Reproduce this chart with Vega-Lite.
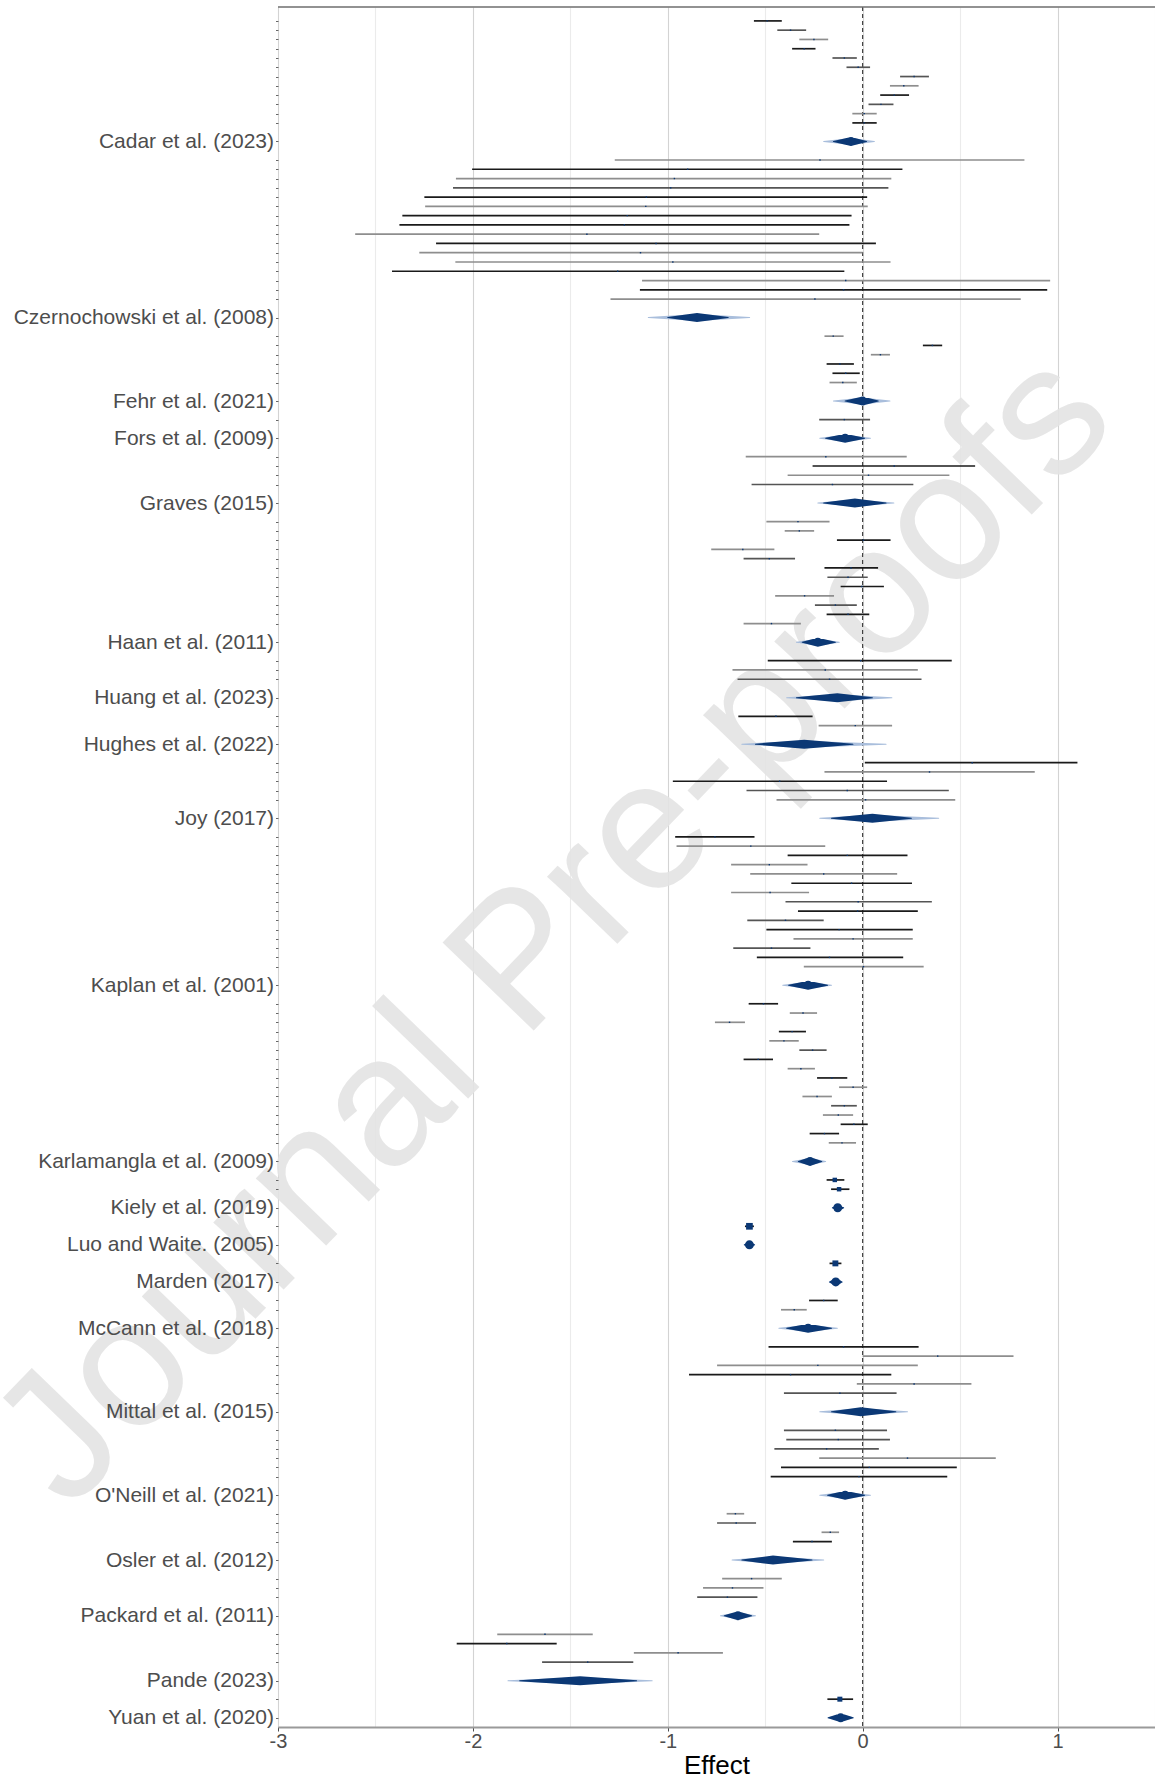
{
  "$schema": "https://vega.github.io/schema/vega-lite/v6.json",
  "width": 877,
  "height": 1720,
  "autosize": {"type": "none"},
  "padding": {"left": 278, "top": 7, "right": 0, "bottom": 53},
  "background": "white",
  "config": {
    "view": {"stroke": null},
    "font": "Liberation Sans",
    "axis": {"labelOverlap": false, "labelLimit": 400, "labelFlush": false}
  },
  "datasets": {
    "studies": [
      {"row":0,"lo":-0.558,"est":-0.49,"hi":-0.415,"t":"k","w":2},
      {"row":1,"lo":-0.438,"est":-0.37,"hi":-0.29,"t":"d","w":2},
      {"row":2,"lo":-0.325,"est":-0.25,"hi":-0.177,"t":"g","w":2},
      {"row":3,"lo":-0.362,"est":-0.30,"hi":-0.242,"t":"k","w":2},
      {"row":4,"lo":-0.155,"est":-0.094,"hi":-0.03,"t":"d","w":2},
      {"row":5,"lo":-0.083,"est":-0.023,"hi":0.038,"t":"d","w":2},
      {"row":6,"lo":0.192,"est":0.264,"hi":0.34,"t":"d","w":2},
      {"row":7,"lo":0.14,"est":0.211,"hi":0.287,"t":"g","w":2},
      {"row":8,"lo":0.09,"est":0.162,"hi":0.238,"t":"k","w":2},
      {"row":9,"lo":0.03,"est":0.094,"hi":0.158,"t":"d","w":2},
      {"row":10,"lo":-0.053,"est":0.008,"hi":0.072,"t":"g","w":2},
      {"row":11,"lo":-0.053,"est":0.008,"hi":0.072,"t":"k","w":2},
      {"row":15,"lo":-1.272,"est":-0.219,"hi":0.83,"t":"g","w":2},
      {"row":16,"lo":-2.004,"est":-0.898,"hi":0.204,"t":"k","w":2},
      {"row":17,"lo":-2.087,"est":-0.966,"hi":0.147,"t":"g","w":2},
      {"row":18,"lo":-2.102,"est":-0.985,"hi":0.132,"t":"d","w":2},
      {"row":19,"lo":-2.249,"est":-1.11,"hi":0.023,"t":"k","w":2},
      {"row":20,"lo":-2.245,"est":-1.113,"hi":0.026,"t":"g","w":2},
      {"row":21,"lo":-2.362,"est":-1.208,"hi":-0.057,"t":"k","w":2},
      {"row":22,"lo":-2.377,"est":-1.223,"hi":-0.068,"t":"k","w":2},
      {"row":23,"lo":-2.604,"est":-1.415,"hi":-0.223,"t":"g","w":2},
      {"row":24,"lo":-2.189,"est":-1.06,"hi":0.068,"t":"k","w":2},
      {"row":25,"lo":-2.275,"est":-1.14,"hi":0.0,"t":"g","w":2},
      {"row":26,"lo":-2.09,"est":-0.974,"hi":0.143,"t":"g","w":2},
      {"row":27,"lo":-2.415,"est":-1.257,"hi":-0.094,"t":"k","w":2},
      {"row":28,"lo":-1.132,"est":-0.087,"hi":0.962,"t":"g","w":2},
      {"row":29,"lo":-1.143,"est":-0.098,"hi":0.947,"t":"k","w":2},
      {"row":30,"lo":-1.294,"est":-0.245,"hi":0.811,"t":"g","w":2},
      {"row":34,"lo":-0.196,"est":-0.151,"hi":-0.098,"t":"g","w":2},
      {"row":35,"lo":0.309,"est":0.358,"hi":0.408,"t":"k","w":2},
      {"row":36,"lo":0.042,"est":0.091,"hi":0.14,"t":"g","w":2},
      {"row":37,"lo":-0.185,"est":-0.117,"hi":-0.045,"t":"k","w":2},
      {"row":38,"lo":-0.155,"est":-0.087,"hi":-0.015,"t":"k","w":2},
      {"row":39,"lo":-0.17,"est":-0.102,"hi":-0.03,"t":"g","w":2},
      {"row":43,"lo":-0.223,"est":-0.094,"hi":0.038,"t":"d","w":2},
      {"row":47,"lo":-0.6,"est":-0.189,"hi":0.226,"t":"g","w":2},
      {"row":48,"lo":-0.257,"est":0.162,"hi":0.577,"t":"k","w":2},
      {"row":49,"lo":-0.385,"est":0.03,"hi":0.445,"t":"g","w":2},
      {"row":50,"lo":-0.57,"est":-0.155,"hi":0.26,"t":"d","w":2},
      {"row":54,"lo":-0.494,"est":-0.332,"hi":-0.17,"t":"g","w":2},
      {"row":55,"lo":-0.4,"est":-0.325,"hi":-0.249,"t":"g","w":2},
      {"row":56,"lo":-0.132,"est":0.004,"hi":0.143,"t":"k","w":2},
      {"row":57,"lo":-0.777,"est":-0.615,"hi":-0.453,"t":"g","w":2},
      {"row":58,"lo":-0.611,"est":-0.479,"hi":-0.347,"t":"d","w":2},
      {"row":59,"lo":-0.196,"est":-0.06,"hi":0.079,"t":"k","w":2},
      {"row":60,"lo":-0.181,"est":-0.075,"hi":0.026,"t":"d","w":2},
      {"row":61,"lo":-0.113,"est":-0.004,"hi":0.109,"t":"k","w":2},
      {"row":62,"lo":-0.449,"est":-0.298,"hi":-0.147,"t":"g","w":2},
      {"row":63,"lo":-0.245,"est":-0.14,"hi":-0.03,"t":"d","w":2},
      {"row":64,"lo":-0.185,"est":-0.075,"hi":0.034,"t":"k","w":2},
      {"row":65,"lo":-0.611,"est":-0.468,"hi":-0.317,"t":"g","w":2},
      {"row":69,"lo":-0.487,"est":-0.01,"hi":0.457,"t":"k","w":2},
      {"row":70,"lo":-0.668,"est":-0.192,"hi":0.283,"t":"g","w":2},
      {"row":71,"lo":-0.642,"est":-0.17,"hi":0.302,"t":"d","w":2},
      {"row":75,"lo":-0.638,"est":-0.445,"hi":-0.257,"t":"k","w":2},
      {"row":76,"lo":-0.226,"est":-0.038,"hi":0.151,"t":"g","w":2},
      {"row":80,"lo":0.011,"est":0.562,"hi":1.102,"t":"k","w":2},
      {"row":81,"lo":-0.196,"est":0.343,"hi":0.883,"t":"g","w":2},
      {"row":82,"lo":-0.974,"est":-0.426,"hi":0.125,"t":"k","w":2},
      {"row":83,"lo":-0.596,"est":-0.079,"hi":0.442,"t":"d","w":2},
      {"row":84,"lo":-0.442,"est":0.015,"hi":0.475,"t":"g","w":2},
      {"row":88,"lo":-0.962,"est":-0.758,"hi":-0.555,"t":"k","w":2},
      {"row":89,"lo":-0.955,"est":-0.574,"hi":-0.192,"t":"g","w":2},
      {"row":90,"lo":-0.385,"est":-0.079,"hi":0.23,"t":"k","w":2},
      {"row":91,"lo":-0.675,"est":-0.479,"hi":-0.283,"t":"g","w":2},
      {"row":92,"lo":-0.577,"est":-0.2,"hi":0.177,"t":"g","w":2},
      {"row":93,"lo":-0.366,"est":-0.057,"hi":0.253,"t":"k","w":2},
      {"row":94,"lo":-0.675,"est":-0.475,"hi":-0.275,"t":"g","w":2},
      {"row":95,"lo":-0.396,"est":-0.023,"hi":0.355,"t":"d","w":2},
      {"row":96,"lo":-0.332,"est":-0.026,"hi":0.283,"t":"k","w":2},
      {"row":97,"lo":-0.592,"est":-0.396,"hi":-0.2,"t":"d","w":2},
      {"row":98,"lo":-0.494,"est":-0.121,"hi":0.257,"t":"k","w":2},
      {"row":99,"lo":-0.355,"est":-0.049,"hi":0.257,"t":"g","w":2},
      {"row":100,"lo":-0.664,"est":-0.468,"hi":-0.268,"t":"d","w":2},
      {"row":101,"lo":-0.543,"est":-0.17,"hi":0.208,"t":"k","w":2},
      {"row":102,"lo":-0.302,"est":0.004,"hi":0.313,"t":"g","w":2},
      {"row":106,"lo":-0.585,"est":-0.509,"hi":-0.434,"t":"k","w":2},
      {"row":107,"lo":-0.374,"est":-0.306,"hi":-0.234,"t":"g","w":2},
      {"row":108,"lo":-0.758,"est":-0.683,"hi":-0.604,"t":"g","w":2},
      {"row":109,"lo":-0.43,"est":-0.362,"hi":-0.291,"t":"k","w":2},
      {"row":110,"lo":-0.479,"est":-0.404,"hi":-0.328,"t":"g","w":2},
      {"row":111,"lo":-0.325,"est":-0.257,"hi":-0.185,"t":"d","w":2},
      {"row":112,"lo":-0.611,"est":-0.536,"hi":-0.46,"t":"k","w":2},
      {"row":113,"lo":-0.385,"est":-0.317,"hi":-0.245,"t":"g","w":2},
      {"row":114,"lo":-0.234,"est":-0.158,"hi":-0.079,"t":"k","w":2},
      {"row":115,"lo":-0.121,"est":-0.049,"hi":0.023,"t":"g","w":2},
      {"row":116,"lo":-0.309,"est":-0.234,"hi":-0.158,"t":"g","w":2},
      {"row":117,"lo":-0.162,"est":-0.094,"hi":-0.03,"t":"d","w":2},
      {"row":118,"lo":-0.204,"est":-0.125,"hi":-0.049,"t":"g","w":2},
      {"row":119,"lo":-0.113,"est":-0.045,"hi":0.026,"t":"k","w":2},
      {"row":120,"lo":-0.272,"est":-0.196,"hi":-0.121,"t":"k","w":2},
      {"row":121,"lo":-0.174,"est":-0.106,"hi":-0.034,"t":"g","w":2},
      {"row":125,"lo":-0.185,"est":-0.143,"hi":-0.094,"t":"k","w":20},
      {"row":126,"lo":-0.162,"est":-0.121,"hi":-0.068,"t":"k","w":20},
      {"row":130,"lo":-0.604,"est":-0.581,"hi":-0.558,"t":"k","w":45},
      {"row":134,"lo":-0.17,"est":-0.14,"hi":-0.109,"t":"k","w":35},
      {"row":138,"lo":-0.275,"est":-0.2,"hi":-0.128,"t":"k","w":2},
      {"row":139,"lo":-0.419,"est":-0.351,"hi":-0.287,"t":"g","w":2},
      {"row":143,"lo":-0.483,"est":-0.098,"hi":0.287,"t":"k","w":2},
      {"row":144,"lo":0.0,"est":0.385,"hi":0.774,"t":"g","w":2},
      {"row":145,"lo":-0.747,"est":-0.23,"hi":0.283,"t":"g","w":2},
      {"row":146,"lo":-0.891,"est":-0.37,"hi":0.147,"t":"k","w":2},
      {"row":147,"lo":-0.03,"est":0.264,"hi":0.558,"t":"g","w":2},
      {"row":148,"lo":-0.404,"est":-0.117,"hi":0.174,"t":"d","w":2},
      {"row":152,"lo":-0.404,"est":-0.14,"hi":0.125,"t":"d","w":2},
      {"row":153,"lo":-0.392,"est":-0.125,"hi":0.14,"t":"d","w":2},
      {"row":154,"lo":-0.453,"est":-0.185,"hi":0.083,"t":"d","w":2},
      {"row":155,"lo":-0.223,"est":0.23,"hi":0.683,"t":"g","w":2},
      {"row":156,"lo":-0.419,"est":0.034,"hi":0.483,"t":"k","w":2},
      {"row":157,"lo":-0.472,"est":-0.019,"hi":0.434,"t":"k","w":2},
      {"row":161,"lo":-0.698,"est":-0.653,"hi":-0.608,"t":"g","w":2},
      {"row":162,"lo":-0.747,"est":-0.649,"hi":-0.547,"t":"d","w":2},
      {"row":163,"lo":-0.211,"est":-0.166,"hi":-0.121,"t":"g","w":2},
      {"row":164,"lo":-0.358,"est":-0.26,"hi":-0.158,"t":"k","w":2},
      {"row":168,"lo":-0.721,"est":-0.57,"hi":-0.415,"t":"g","w":2},
      {"row":169,"lo":-0.819,"est":-0.668,"hi":-0.509,"t":"g","w":2},
      {"row":170,"lo":-0.849,"est":-0.694,"hi":-0.54,"t":"d","w":2},
      {"row":174,"lo":-1.875,"est":-1.63,"hi":-1.385,"t":"g","w":2},
      {"row":175,"lo":-2.083,"est":-1.826,"hi":-1.57,"t":"k","w":2},
      {"row":176,"lo":-1.174,"est":-0.947,"hi":-0.717,"t":"g","w":2},
      {"row":177,"lo":-1.645,"est":-1.411,"hi":-1.177,"t":"d","w":2},
      {"row":181,"lo":-0.181,"est":-0.117,"hi":-0.049,"t":"k","w":25}
    ],
    "summ": [
      {"row":13,"study":"Cadar et al. (2023)","plo":-0.2,"clo":-0.15,"est":-0.06,"chi":0.02,"phi":0.06},
      {"row":32,"study":"Czernochowski et al. (2008)","plo":-1.1,"clo":-1.0,"est":-0.85,"chi":-0.69,"phi":-0.58},
      {"row":41,"study":"Fehr et al. (2021)","plo":-0.15,"clo":-0.09,"est":0.0,"chi":0.08,"phi":0.14},
      {"row":45,"study":"Fors et al. (2009)","plo":-0.22,"clo":-0.19,"est":-0.09,"chi":0.01,"phi":0.04},
      {"row":52,"study":"Graves (2015)","plo":-0.23,"clo":-0.2,"est":-0.04,"chi":0.12,"phi":0.16},
      {"row":67,"study":"Haan et al. (2011)","plo":-0.34,"clo":-0.31,"est":-0.23,"chi":-0.14,"phi":-0.12},
      {"row":73,"study":"Huang et al. (2023)","plo":-0.39,"clo":-0.34,"est":-0.13,"chi":0.05,"phi":0.15},
      {"row":78,"study":"Hughes et al. (2022)","plo":-0.62,"clo":-0.55,"est":-0.3,"chi":-0.05,"phi":0.12},
      {"row":86,"study":"Joy (2017)","plo":-0.22,"clo":-0.16,"est":0.05,"chi":0.25,"phi":0.39},
      {"row":104,"study":"Kaplan et al. (2001)","plo":-0.41,"clo":-0.38,"est":-0.28,"chi":-0.18,"phi":-0.16},
      {"row":123,"study":"Karlamangla et al. (2009)","plo":-0.36,"clo":-0.33,"est":-0.27,"chi":-0.21,"phi":-0.19},
      {"row":128,"study":"Kiely et al. (2019)","plo":-0.156,"clo":-0.155,"est":-0.128,"chi":-0.098,"phi":-0.097},
      {"row":132,"study":"Luo and Waite. (2005)","plo":-0.608,"clo":-0.607,"est":-0.581,"chi":-0.555,"phi":-0.554},
      {"row":136,"study":"Marden (2017)","plo":-0.171,"clo":-0.17,"est":-0.138,"chi":-0.106,"phi":-0.105},
      {"row":141,"study":"McCann et al. (2018)","plo":-0.43,"clo":-0.39,"est":-0.28,"chi":-0.16,"phi":-0.13},
      {"row":150,"study":"Mittal et al. (2015)","plo":-0.22,"clo":-0.16,"est":-0.01,"chi":0.17,"phi":0.23},
      {"row":159,"study":"O'Neill et al. (2021)","plo":-0.22,"clo":-0.18,"est":-0.09,"chi":0.01,"phi":0.04},
      {"row":166,"study":"Osler et al. (2012)","plo":-0.67,"clo":-0.62,"est":-0.46,"chi":-0.26,"phi":-0.2},
      {"row":172,"study":"Packard et al. (2011)","plo":-0.73,"clo":-0.71,"est":-0.64,"chi":-0.57,"phi":-0.55},
      {"row":179,"study":"Pande (2023)","plo":-1.82,"clo":-1.76,"est":-1.45,"chi":-1.16,"phi":-1.08},
      {"row":183,"study":"Yuan et al. (2020)","plo":-0.178,"clo":-0.177,"est":-0.113,"chi":-0.049,"phi":-0.048}
    ]
  },
  "resolve": {"scale": {"size": "independent", "color": "independent"}},
  "layer": [
    {
      "data": {"name": "studies"},
      "mark": {"type": "rule", "strokeWidth": 1.7, "opacity": 0},
      "encoding": {
        "x": {
          "field": "lo", "type": "quantitative", "title": "Effect",
          "scale": {"domain": [-3, 1.5], "nice": false, "zero": false},
          "axis": {
            "title": "Effect",
            "values": [-3, -2.5, -2, -1.5, -1, -0.5, 0, 0.5, 1, 1.5],
            "tickCount": 50,
            "labelExpr": "datum.value % 1 == 0 ? '' + datum.value : ''",
            "grid": true,
            "gridColor": {"condition": {"test": "datum.value % 1 == 0", "value": "#d3d3d3"}, "value": "#ebebeb"},
            "gridWidth": 1.1,
            "tickOpacity": {"condition": {"test": "datum.value % 1 != 0", "value": 0}, "value": 1},
            "tickColor": "#4d4d4d",
            "tickSize": 4,
            "domainColor": "#9a9a9a",
            "domainWidth": 1.8,
            "labelFontSize": 20,
            "labelColor": "#4d4d4d",
            "labelFont": "Liberation Sans",
            "labelPadding": 0,
            "labelFlush": false,
            "labelOverlap": false,
            "titleFontSize": 26,
            "titleFontWeight": "normal",
            "titleColor": "#000000",
            "titleFont": "Liberation Sans",
            "titlePadding": 1
          }
        },
        "x2": {"field": "hi"},
        "y": {
          "field": "row", "type": "quantitative", "title": null,
          "scale": {"domain": [-1.5, 184], "reverse": true, "nice": false, "zero": false},
          "axis": {
            "title": null,
            "grid": false,
            "domain": false,
            "zindex": 1,
            "tickCount": 1000,
            "values": [0,1,2,3,4,5,6,7,8,9,10,11,13,15,16,17,18,19,20,21,22,23,24,25,26,27,28,29,30,32,34,35,36,37,38,39,41,43,45,47,48,49,50,52,54,55,56,57,58,59,60,61,62,63,64,65,67,69,70,71,73,75,76,78,80,81,82,83,84,86,88,89,90,91,92,93,94,95,96,97,98,99,100,101,102,104,106,107,108,109,110,111,112,113,114,115,116,117,118,119,120,121,123,125,126,128,130,132,134,136,138,139,141,143,144,145,146,147,148,150,152,153,154,155,156,157,159,161,162,163,164,166,168,169,170,172,174,175,176,177,179,181,183],
            "labelExpr": "datum.value==13?'Cadar et al. (2023)':datum.value==32?'Czernochowski et al. (2008)':datum.value==41?'Fehr et al. (2021)':datum.value==45?'Fors et al. (2009)':datum.value==52?'Graves (2015)':datum.value==67?'Haan et al. (2011)':datum.value==73?'Huang et al. (2023)':datum.value==78?'Hughes et al. (2022)':datum.value==86?'Joy (2017)':datum.value==104?'Kaplan et al. (2001)':datum.value==123?'Karlamangla et al. (2009)':datum.value==128?'Kiely et al. (2019)':datum.value==132?'Luo and Waite. (2005)':datum.value==136?'Marden (2017)':datum.value==141?'McCann et al. (2018)':datum.value==150?'Mittal et al. (2015)':datum.value==159?\"O'Neill et al. (2021)\":datum.value==166?'Osler et al. (2012)':datum.value==172?'Packard et al. (2011)':datum.value==179?'Pande (2023)':datum.value==183?'Yuan et al. (2020)':''",
            "labelFontSize": 21,
            "labelColor": "#4d4d4d",
            "labelFont": "Liberation Sans",
            "labelPadding": 2,
            "labelOverlap": false,
            "labelBound": false,
            "labelFlush": false,
            "labelLimit": 400,
            "tickSize": 2.5,
            "tickColor": "#666666"
          }
        }
      }
    },
    {
      "data": {"values": [{"t": "Journal Pre-proofs"}]},
      "mark": {"type": "text", "fontSize": 184, "font": "Liberation Sans", "color": "#e4e4e4", "angle": -46, "align": "center", "baseline": "middle", "clip": false, "opacity": 0.9},
      "encoding": {
        "text": {"field": "t"},
        "x": {"datum": -1.58},
        "y": {"datum": 98}
      }
    },
    {
      "data": {"values": [{}]},
      "mark": {"type": "rule", "color": "#222222", "strokeDash": [4, 3], "strokeWidth": 1},
      "encoding": {"x": {"datum": 0}}
    },
    {
      "data": {"values": [{}]},
      "mark": {"type": "rule", "color": "#6e6e6e", "strokeWidth": 1.3},
      "encoding": {"y": {"datum": -1.5}}
    },
    {
      "data": {"name": "studies"},
      "mark": {"type": "rule", "strokeWidth": 1.7},
      "encoding": {
        "x": {"field": "lo", "type": "quantitative", "title": "Effect"},
        "x2": {"field": "hi"},
        "y": {"field": "row", "type": "quantitative", "title": null},
        "color": {"field": "t", "type": "nominal", "scale": {"domain": ["k", "d", "g"], "range": ["#1a1a1a", "#555555", "#8e8e8e"]}, "legend": null}
      }
    },
    {
      "data": {"name": "studies"},
      "mark": {"type": "square", "color": "#0b3875", "opacity": 1},
      "encoding": {
        "x": {"field": "est", "type": "quantitative", "title": "Effect"},
        "y": {"field": "row", "type": "quantitative", "title": null},
        "size": {"field": "w", "type": "quantitative", "scale": {"domain": [0, 50], "range": [0, 50]}, "legend": null}
      }
    },
    {
      "data": {"name": "summ"},
      "transform": [{"fold": ["plo", "est", "phi"], "as": ["k", "v"]}],
      "mark": {"type": "trail", "color": "#a9bedc"},
      "encoding": {
        "x": {"field": "v", "type": "quantitative", "title": "Effect"},
        "y": {"field": "row", "type": "quantitative", "title": null},
        "detail": {"field": "row", "type": "nominal"},
        "order": {"field": "v", "type": "quantitative"},
        "size": {"field": "k", "type": "nominal", "scale": {"type": "ordinal", "domain": ["plo", "est", "phi"], "range": [0, 7, 0]}, "legend": null}
      }
    },
    {
      "data": {"name": "summ"},
      "transform": [{"fold": ["clo", "est", "chi"], "as": ["k", "v"]}],
      "mark": {"type": "trail", "color": "#0b3875"},
      "encoding": {
        "x": {"field": "v", "type": "quantitative", "title": "Effect"},
        "y": {"field": "row", "type": "quantitative", "title": null},
        "detail": {"field": "row", "type": "nominal"},
        "order": {"field": "v", "type": "quantitative"},
        "size": {"field": "k", "type": "nominal", "scale": {"type": "ordinal", "domain": ["clo", "est", "chi"], "range": [0, 9, 0]}, "legend": null}
      }
    }
  ]
}
